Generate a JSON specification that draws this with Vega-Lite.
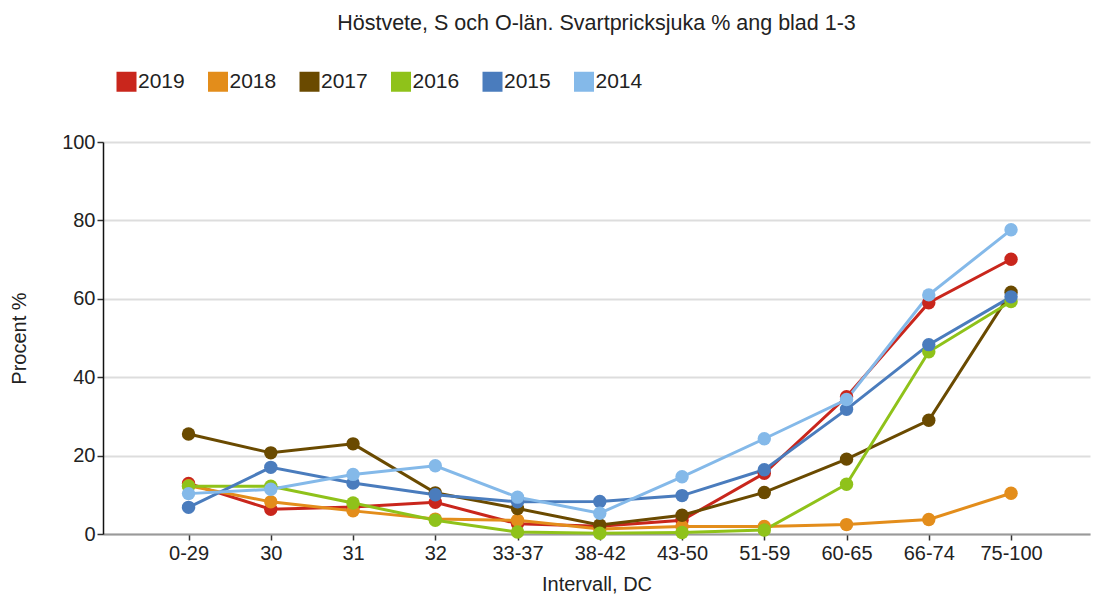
{
  "$schema": "https://vega.github.io/schema/vega-lite/v6.json",
  "width": 987,
  "height": 392,
  "autosize": {"type": "none"},
  "padding": {"left": 103, "top": 142, "right": 3, "bottom": 60},
  "background": "white",
  "config": {
    "font": "Liberation Sans",
    "view": {"stroke": null}
  },
  "title": {
    "text": "Höstvete, S och O-län. Svartpricksjuka % ang blad 1-3",
    "fontSize": 21.5,
    "fontWeight": "normal",
    "color": "#222222",
    "anchor": "middle",
    "offset": 37
  },
  "data": {
    "values": [
      {"year": "2019", "dc": "0-29", "v": 12.9}, {"year": "2019", "dc": "30", "v": 6.3}, {"year": "2019", "dc": "31", "v": 6.9}, {"year": "2019", "dc": "32", "v": 8.1}, {"year": "2019", "dc": "33-37", "v": 2.6}, {"year": "2019", "dc": "38-42", "v": 2.0}, {"year": "2019", "dc": "43-50", "v": 3.5}, {"year": "2019", "dc": "51-59", "v": 15.5}, {"year": "2019", "dc": "60-65", "v": 35.0}, {"year": "2019", "dc": "66-74", "v": 59.0}, {"year": "2019", "dc": "75-100", "v": 70.1},
      {"year": "2018", "dc": "0-29", "v": 12.3}, {"year": "2018", "dc": "30", "v": 8.2}, {"year": "2018", "dc": "31", "v": 5.9}, {"year": "2018", "dc": "32", "v": 3.8}, {"year": "2018", "dc": "33-37", "v": 3.5}, {"year": "2018", "dc": "38-42", "v": 1.3}, {"year": "2018", "dc": "43-50", "v": 1.9}, {"year": "2018", "dc": "51-59", "v": 1.9}, {"year": "2018", "dc": "60-65", "v": 2.4}, {"year": "2018", "dc": "66-74", "v": 3.7}, {"year": "2018", "dc": "75-100", "v": 10.4},
      {"year": "2017", "dc": "0-29", "v": 25.5}, {"year": "2017", "dc": "30", "v": 20.7}, {"year": "2017", "dc": "31", "v": 23.0}, {"year": "2017", "dc": "32", "v": 10.5}, {"year": "2017", "dc": "33-37", "v": 6.5}, {"year": "2017", "dc": "38-42", "v": 2.3}, {"year": "2017", "dc": "43-50", "v": 4.8}, {"year": "2017", "dc": "51-59", "v": 10.6}, {"year": "2017", "dc": "60-65", "v": 19.1}, {"year": "2017", "dc": "66-74", "v": 29.0}, {"year": "2017", "dc": "75-100", "v": 61.7},
      {"year": "2016", "dc": "0-29", "v": 12.2}, {"year": "2016", "dc": "30", "v": 12.2}, {"year": "2016", "dc": "31", "v": 7.9}, {"year": "2016", "dc": "32", "v": 3.5}, {"year": "2016", "dc": "33-37", "v": 0.5}, {"year": "2016", "dc": "38-42", "v": 0.2}, {"year": "2016", "dc": "43-50", "v": 0.4}, {"year": "2016", "dc": "51-59", "v": 1.0}, {"year": "2016", "dc": "60-65", "v": 12.7}, {"year": "2016", "dc": "66-74", "v": 46.5}, {"year": "2016", "dc": "75-100", "v": 59.3},
      {"year": "2015", "dc": "0-29", "v": 6.8}, {"year": "2015", "dc": "30", "v": 17.0}, {"year": "2015", "dc": "31", "v": 13.0}, {"year": "2015", "dc": "32", "v": 10.0}, {"year": "2015", "dc": "33-37", "v": 8.2}, {"year": "2015", "dc": "38-42", "v": 8.3}, {"year": "2015", "dc": "43-50", "v": 9.8}, {"year": "2015", "dc": "51-59", "v": 16.4}, {"year": "2015", "dc": "60-65", "v": 31.8}, {"year": "2015", "dc": "66-74", "v": 48.3}, {"year": "2015", "dc": "75-100", "v": 60.5},
      {"year": "2014", "dc": "0-29", "v": 10.3}, {"year": "2014", "dc": "30", "v": 11.4}, {"year": "2014", "dc": "31", "v": 15.2}, {"year": "2014", "dc": "32", "v": 17.4}, {"year": "2014", "dc": "33-37", "v": 9.4}, {"year": "2014", "dc": "38-42", "v": 5.3}, {"year": "2014", "dc": "43-50", "v": 14.6}, {"year": "2014", "dc": "51-59", "v": 24.3}, {"year": "2014", "dc": "60-65", "v": 34.3}, {"year": "2014", "dc": "66-74", "v": 61.0}, {"year": "2014", "dc": "75-100", "v": 77.6}
    ]
  },
  "mark": {"type": "line", "strokeWidth": 3, "point": {"filled": true, "size": 180, "opacity": 1}},
  "encoding": {
    "x": {
      "field": "dc",
      "type": "ordinal",
      "sort": ["0-29", "30", "31", "32", "33-37", "38-42", "43-50", "51-59", "60-65", "66-74", "75-100"],
      "scale": {"type": "point", "padding": 1.04, "align": 0.52},
      "axis": {
        "title": "Intervall, DC",
        "titleFontSize": 20,
        "titleFontWeight": "normal",
        "titleColor": "#222222",
        "titlePadding": 11,
        "labelFontSize": 20,
        "labelColor": "#222222",
        "labelAngle": 0,
        "labelPadding": 3,
        "domainColor": "#999999",
        "domainWidth": 2,
        "tickColor": "#333333",
        "tickSize": 6,
        "tickWidth": 1.5,
        "grid": false
      }
    },
    "y": {
      "field": "v",
      "type": "quantitative",
      "scale": {"domain": [0, 100], "nice": false},
      "axis": {
        "title": "Procent %",
        "titleFontSize": 20,
        "titleFontWeight": "normal",
        "titleColor": "#222222",
        "titlePadding": 32,
        "values": [0, 20, 40, 60, 80, 100],
        "labelFontSize": 20,
        "labelColor": "#222222",
        "labelPadding": 2,
        "domainColor": "#111111",
        "domainWidth": 1.5,
        "tickColor": "#333333",
        "tickSize": 6,
        "tickWidth": 1.5,
        "grid": true,
        "gridColor": "#dddddd",
        "gridWidth": 2
      }
    },
    "color": {
      "field": "year",
      "type": "nominal",
      "sort": ["2019", "2018", "2017", "2016", "2015", "2014"],
      "scale": {
        "domain": ["2019", "2018", "2017", "2016", "2015", "2014"],
        "range": ["#c9261c", "#e38d1b", "#6a4a00", "#8fc21a", "#4a7cbd", "#84b9e9"]
      },
      "legend": {
        "title": null,
        "orient": "none",
        "legendX": 13,
        "legendY": -71,
        "direction": "horizontal",
        "columns": 6,
        "symbolType": "square",
        "symbolSize": 400,
        "symbolStrokeWidth": 0,
        "symbolOpacity": 1,
        "labelFontSize": 21,
        "labelColor": "#222222",
        "labelOffset": 1,
        "columnPadding": 22.5,
        "padding": 0
      }
    }
  }
}
